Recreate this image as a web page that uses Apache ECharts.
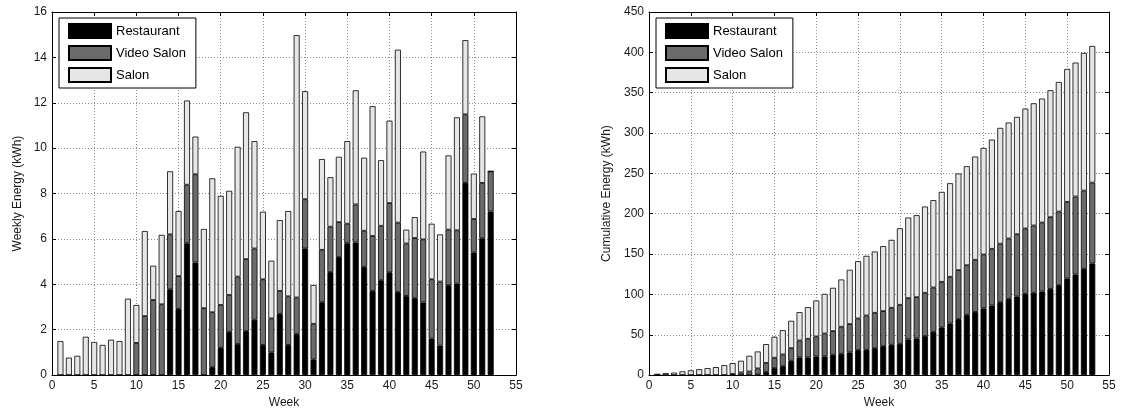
<!DOCTYPE html>
<html>
<head>
<meta charset="utf-8">
<script src="https://cdn.jsdelivr.net/npm/echarts@6/dist/echarts.min.js"></script>
<style>
html,body{margin:0;padding:0;background:#fff;}
#chart{width:1121px;height:414px;}
</style>
</head>
<body>
<div id="chart"></div>
<script>
// ---- Axis categories / tick labels (weeks 0..55, labelled every 5) ----
const weekCats = ['0','1','2','3','4','5','6','7','8','9','10','11','12','13','14','15','16','17','18','19','20','21','22','23','24','25','26','27','28','29','30','31','32','33','34','35','36','37','38','39','40','41','42','43','44','45','46','47','48','49','50','51','52','53','54','55'];

// ---- Weekly energy (left panel) ----
const weeklyWeeks = ['1','2','3','4','5','6','7','8','9','10','11','12','13','14','15','16','17','18','19','20','21','22','23','24','25','26','27','28','29','30','31','32','33','34','35','36','37','38','39','40','41','42','43','44','45','46','47','48','49','50','51','52'];
const weeklyRestaurant = [0,0,0,0,0,0,0,0,0,0,0,0,0,3.78,2.92,5.81,4.96,0,0.35,1.2,1.9,1.37,1.94,2.44,1.33,1.0,2.7,1.33,1.81,5.58,0.69,3.21,4.54,5.2,5.81,5.84,4.77,3.71,4.18,4.53,3.66,3.49,3.39,3.2,1.61,1.3,3.96,4.03,8.47,5.4,6.03,7.21];
const weeklyVideo = [0,0,0,0,0,0,0,0,0,1.42,2.6,3.31,3.12,2.42,1.44,2.58,3.89,2.95,2.42,1.89,1.63,2.97,3.17,3.14,2.89,1.5,1.01,2.14,1.61,2.17,1.57,2.31,2.0,1.54,0.86,1.68,1.59,2.42,2.4,3.05,3.06,2.31,2.65,2.78,2.61,2.82,2.45,2.35,3.02,1.48,2.44,1.77];
const weeklySalon = [1.5,0.77,0.85,1.69,1.46,1.33,1.56,1.5,3.37,1.67,3.75,1.51,3.06,2.78,2.87,3.71,1.66,3.49,5.9,4.81,4.59,5.72,6.47,4.73,2.98,2.54,3.12,3.76,11.56,4.76,1.71,4.0,2.18,2.88,3.64,5.03,3.22,5.72,2.89,3.63,7.62,0.61,0.92,3.87,2.45,2.08,3.27,4.98,3.27,2.0,2.93,0];

// ---- Cumulative energy (right panel) ----
const cumWeeks = ['1','2','3','4','5','6','7','8','9','10','11','12','13','14','15','16','17','18','19','20','21','22','23','24','25','26','27','28','29','30','31','32','33','34','35','36','37','38','39','40','41','42','43','44','45','46','47','48','49','50','51','52','53'];
const cumRestaurant = [0,0,0,0,0,0,0,0,0,0,0,0,0.5,4,8.7,11.1,17.8,21.9,21.9,23.1,23.1,25.2,26.4,28.1,31,31.5,33.4,35.9,37.6,38.8,44.2,45.4,48.3,53.7,59,64,69.4,74.7,78.4,82.6,86.3,90.4,94.5,97.4,100.7,102,103.6,106.9,111.5,119.7,124.7,131.7,138.3];
const cumVideo = [0,0,0,0,0,0,0,0,0,1.4,3.3,4.5,7.8,11.1,12.8,14.5,15.6,21.0,23.1,24.8,28.5,29.3,33.5,35.1,39.2,42.4,43.8,43.4,45.8,48.3,51.2,51.2,53.7,54.9,56.6,57.8,60.7,61.5,64.5,66.9,70.2,72.5,74.8,77.2,81.0,83.4,85.5,88.8,91.2,95.0,96.6,97.0,100.3];
const cumSalon = [1.6,2.5,3.1,4.6,6.0,7.3,8.7,9.9,12.4,13.5,14.5,19.4,21.0,23.3,26.0,30.1,33.9,35.1,39.2,44.6,49.1,53.7,58.6,67.3,71.0,73.9,76.0,80.5,84.2,94.9,99.9,101.6,106.9,108.2,111.5,116.0,119.7,122.7,128.0,132.1,135.4,143.5,143.7,145.4,148.6,151.5,153.6,157.3,160.6,164.7,166.0,170.6,169.3];

const seriesNames = ['Restaurant','Video Salon','Salon'];
const yWeekly = {min:0, max:16, interval:2};
const yCum = {min:0, max:450, interval:50};

const FONT = 'Liberation Sans, Arial, Helvetica, sans-serif';
const colors = ['#000000','#6b6b6b','#e6e6e6'];
const TXT = '#1a1a1a';

function pairs(xs, ys){ return xs.map((x,i)=>[x, ys[i]]); }

function xAxes(gi){
  const base = {gridIndex:gi, type:'category', data:weekCats, boundaryGap:false};
  return [
    Object.assign({}, base, {position:'bottom',
     name:'Week', nameLocation:'middle', nameGap:21,
     nameTextStyle:{fontFamily:FONT, fontSize:12, color:TXT},
     axisLine:{show:true, onZero:false, lineStyle:{color:'#000', width:1}},
     axisTick:{show:true, inside:true, length:4, interval:4, lineStyle:{color:'#000'}},
     axisLabel:{fontFamily:FONT, fontSize:12, color:TXT, margin:5, interval:4},
     splitLine:{show:true, interval:4, lineStyle:{color:'#8a8a8a', type:[1,2], width:1}}}),
    Object.assign({}, base, {position:'top',
     axisLine:{show:true, onZero:false, lineStyle:{color:'#000', width:1}},
     axisTick:{show:true, inside:true, length:4, interval:4, lineStyle:{color:'#000'}},
     axisLabel:{show:false}, splitLine:{show:false}})
  ];
}
function yAxes(gi, scale, name, gap){
  return [
    {gridIndex:gi, type:'value', position:'left', min:scale.min, max:scale.max, interval:scale.interval,
     name:name, nameLocation:'middle', nameGap:gap,
     nameTextStyle:{fontFamily:FONT, fontSize:12, color:TXT},
     axisLine:{show:true, onZero:false, lineStyle:{color:'#000', width:1}},
     axisTick:{show:true, inside:true, length:4, lineStyle:{color:'#000'}},
     axisLabel:{fontFamily:FONT, fontSize:12, color:TXT, margin:5},
     splitLine:{show:true, lineStyle:{color:'#8a8a8a', type:[1,2], width:1}}},
    {gridIndex:gi, type:'value', position:'right', min:scale.min, max:scale.max, interval:scale.interval,
     axisLine:{show:true, onZero:false, lineStyle:{color:'#000', width:1}},
     axisTick:{show:true, inside:true, length:4, lineStyle:{color:'#000'}},
     axisLabel:{show:false}, splitLine:{show:false}}
  ];
}

function barSeries(name, idx, xi, yi, data, stack){
  return {
    name:name, type:'bar', xAxisIndex:xi, yAxisIndex:yi, stack:stack,
    data:data, barWidth:6,
    itemStyle:{color:colors[idx], borderColor:'#000', borderWidth:0.8},
    emphasis:{disabled:true}, animation:false
  };
}

const legendCommon = {
  orient:'vertical', itemWidth:42, itemHeight:14, itemGap:6,
  padding:[5,10,5,9], backgroundColor:'#fff', borderColor:'#000', borderWidth:1,
  borderRadius:0, textStyle:{fontFamily:FONT, fontSize:13, color:'#000'},
  icon:'rect', data:seriesNames, selectedMode:false
};

const option = {
  backgroundColor:'#fff',
  animation:false,
  grid:[
    {left:52, top:12, width:464, height:364, containLabel:false},
    {left:649, top:12, width:460, height:364, containLabel:false}
  ],
  legend:[
    Object.assign({left:59, top:18}, legendCommon),
    Object.assign({left:656, top:18}, legendCommon)
  ],
  xAxis: xAxes(0).concat(xAxes(1)),
  yAxis: yAxes(0, yWeekly, 'Weekly Energy (kWh)', 28).concat(yAxes(1, yCum, 'Cumulative Energy (kWh)', 36)),
  series:[
    barSeries(seriesNames[0], 0, 0, 0, pairs(weeklyWeeks, weeklyRestaurant), 'w'),
    barSeries(seriesNames[1], 1, 0, 0, pairs(weeklyWeeks, weeklyVideo), 'w'),
    barSeries(seriesNames[2], 2, 0, 0, pairs(weeklyWeeks, weeklySalon), 'w'),
    barSeries(seriesNames[0], 0, 2, 2, pairs(cumWeeks, cumRestaurant), 'c'),
    barSeries(seriesNames[1], 1, 2, 2, pairs(cumWeeks, cumVideo), 'c'),
    barSeries(seriesNames[2], 2, 2, 2, pairs(cumWeeks, cumSalon), 'c')
  ]
};

const chart = echarts.init(document.getElementById('chart'), null, {renderer:'canvas'});
chart.setOption(option);
</script>
</body>
</html>
